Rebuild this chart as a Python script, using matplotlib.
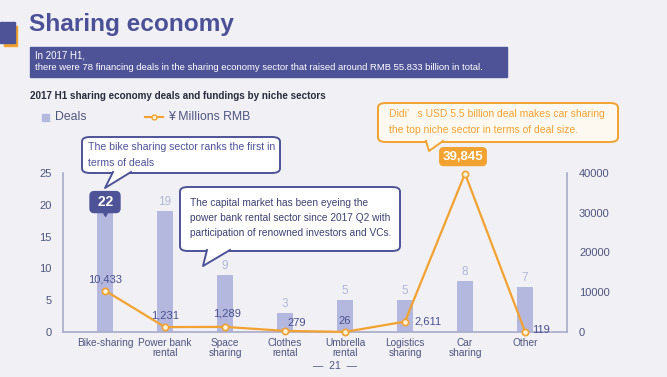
import matplotlib.pyplot as plt
from matplotlib.patches import FancyBboxPatch, Polygon, Rectangle
from matplotlib.lines import Line2D
from matplotlib.transforms import ScaledTranslation

# data
sectors = ["Bike-sharing", "Power bank\nrental", "Space\nsharing", "Clothes\nrental",
           "Umbrella\nrental", "Logistics\nsharing", "Car\nsharing", "Other"]
deals = [22, 19, 9, 3, 5, 5, 8, 7]
funding = [10433, 1231, 1289, 279, 26, 2611, 39845, 119]
deal_ticks = [0, 5, 10, 15, 20, 25]
fund_ticks = [0, 10000, 20000, 30000, 40000]

W, H = 667, 377
BG = "#f0f0f5"
NAVY = "#4e5398"
BAR = "#b5b8de"
ORANGE = "#f2a230"
TXT = "#50557f"
AXC = "#a9abc9"
plt.rcParams["font.family"] = ["Liberation Sans", "DejaVu Sans"]

fig = plt.figure(figsize=(W / 100, H / 100), dpi=100, facecolor=BG)


def fx(x):
    return x / W


def fy(y):
    return 1 - y / H


def ftext(x, y, s, **kw):
    fig.text(fx(x), fy(y), s, **kw)


# header decoration
fig.add_artist(Rectangle((fx(4), fy(46)), 13 / W, 20 / H, transform=fig.transFigure,
                         color="#f2a230", zorder=1))
fig.add_artist(Rectangle((fx(0), fy(43)), 15 / W, 21 / H, transform=fig.transFigure,
                         color=NAVY, zorder=2))
ftext(29, 25, "Sharing economy", fontsize=17.6, fontweight="bold", color="#4b5097", va="center")

fig.add_artist(Rectangle((fx(30), fy(77)), 477 / W, 30 / H, transform=fig.transFigure,
                         color=NAVY, zorder=1))
ftext(35, 55, "In 2017 H1,", fontsize=7, color="white", va="center")
ftext(35, 68, "there were 78 financing deals in the sharing economy sector that raised around "
              "RMB 55.833 billion in total.", fontsize=6.8, color="white", va="center")
ftext(30, 96, "2017 H1 sharing economy deals and fundings by niche sectors",
      fontsize=7.1, fontweight="bold", color="#2b2b3b", va="center")

# legend
fig.add_artist(Rectangle((fx(42), fy(121)), 7 / W, 7 / H, transform=fig.transFigure,
                         color=BAR))
ftext(55, 117, "Deals", fontsize=8.8, color=TXT, va="center")
fig.add_artist(Line2D([fx(145), fx(163)], [fy(117), fy(117)], transform=fig.transFigure,
                      color=ORANGE, lw=1.5, zorder=3))
fig.add_artist(Line2D([fx(154)], [fy(117)], transform=fig.transFigure, color=ORANGE,
                      marker="o", ms=3.5, mfc="#fff3dc", mec=ORANGE, mew=1, zorder=4))
ftext(168, 117, "¥ Millions RMB", fontsize=8.8, color=TXT, va="center")

# axes
ax = fig.add_axes([fx(63), fy(332), 504 / W, 159 / H])
ax.set_facecolor("none")
x = list(range(len(sectors)))
ax.bar(x, deals, width=0.28, color=BAR, zorder=2)
ax.set_xlim(-0.7, 7.7)
ax.set_ylim(0, 25)
ax.set_yticks(deal_ticks)
ax.set_xticks(x, sectors)
for s in ["top", "right"]:
    ax.spines[s].set_visible(False)
for s in ["left", "bottom"]:
    ax.spines[s].set_color(AXC)
    ax.spines[s].set_linewidth(1.2)
ax.tick_params(axis="y", length=0, pad=8, labelsize=8, labelcolor=TXT)
ax.tick_params(axis="x", length=0, pad=4, labelsize=7.3, labelcolor=TXT)
for lab in ax.get_xticklabels():
    lab.set_linespacing(1.05)

for i, d in enumerate(deals):
    if i == 0:
        ax.annotate(f" {d} ", (i, d), xytext=(0, -10), textcoords="offset pixels",
                    ha="center", va="center", fontsize=10, fontweight="bold", color="white",
                    zorder=5,
                    bbox=dict(boxstyle="round,pad=0.25,rounding_size=0.3", fc=NAVY, ec=NAVY))
        ax.plot([i], [d], marker="v", ms=5, color=NAVY, zorder=5, clip_on=False,
                transform=ax.transData + ScaledTranslation(0, -21 / 100, fig.dpi_scale_trans))
    else:
        ax.annotate(str(d), (i, d), xytext=(0, 3), textcoords="offset pixels",
                    ha="center", va="bottom", fontsize=8.5, color="#b3b6d6")

ax2 = ax.twinx()
ax2.set_ylim(0, 40000)
ax2.set_yticks(fund_ticks)
for s in ["top", "left", "bottom"]:
    ax2.spines[s].set_visible(False)
ax2.spines["right"].set_color(AXC)
ax2.spines["right"].set_linewidth(1.2)
ax2.tick_params(axis="y", length=0, pad=8.6, labelsize=8, labelcolor=TXT)
ax2.plot(x, funding, color=ORANGE, lw=1.6, marker="o", ms=4.5, mfc="#fff3dc",
         mec=ORANGE, mew=1.2, zorder=3, clip_on=False)

# funding labels: (dx, dy, ha) offsets in pixels
offsets = [(0, 11, "center"), (0, 12, "center"), (2, 13, "center"), (2, 8, "left"),
           (0, 11, "center"), (9, 0, "left"), None, (7, 2, "left")]
for i, (v, off) in enumerate(zip(funding, offsets)):
    if off is None:
        ax2.annotate(f"{v:,}", (i, v), xytext=(-2, 17), textcoords="offset pixels",
                     ha="center", va="center", fontsize=9.5, fontweight="bold",
                     color="white", zorder=6,
                     bbox=dict(boxstyle="round,pad=0.22,rounding_size=0.3", fc=ORANGE, ec=ORANGE))
        continue
    ax2.annotate(f"{v:,}", (i, v), xytext=(off[0], off[1]), textcoords="offset pixels",
                 ha=off[2], va="center", fontsize=8, color="#4a4f8e", zorder=6)


# callouts
def callout(x0, y0, x1, y1, tail, ec, fc, lines, tx, ty, color, size, dy):
    fig.add_artist(FancyBboxPatch((fx(x0), fy(y1)), (x1 - x0) / W, (y1 - y0) / H,
                                  boxstyle="round,pad=0,rounding_size=0.012",
                                  transform=fig.transFigure, fc=fc, ec=ec, lw=1.4, zorder=7))
    (ax_, bx_, tipx, tipy) = tail
    pts = [(fx(ax_), fy(y1 - 1)), (fx(tipx), fy(tipy)), (fx(bx_), fy(y1 - 1))]
    fig.add_artist(Polygon(pts, closed=True, transform=fig.transFigure, fc=fc, ec="none",
                           zorder=8))
    fig.add_artist(Line2D([p[0] for p in pts], [p[1] for p in pts],
                          transform=fig.transFigure, color=ec, lw=1.4, zorder=9))
    for k, ln in enumerate(lines):
        ftext(tx, ty + k * dy, ln, fontsize=size, color=color, va="center", zorder=10)


callout(82, 137, 280, 173, (113, 131, 105, 188), NAVY, "white",
        ["The bike sharing sector ranks the first in", "terms of deals"],
        88, 147, NAVY, 7.6, 15.5)
callout(180, 187, 400, 251, (207, 230, 203, 266), NAVY, "white",
        ["The capital market has been eyeing the",
         "power bank rental sector since 2017 Q2 with",
         "participation of renowned investors and VCs."],
        190, 203, "#3d4170", 7.3, 15)
callout(378, 103, 618, 142, (426, 443, 429, 151), ORANGE, "#fdf9f0",
        ["Didi’   s USD 5.5 billion deal makes car sharing",
         "the top niche sector in terms of deal size."],
        389, 114, ORANGE, 7.45, 16)

ftext(335, 366, "—  21  —", fontsize=7.5, color=TXT, ha="center", va="center")

fig.savefig("out.png", dpi=100, facecolor=BG)
